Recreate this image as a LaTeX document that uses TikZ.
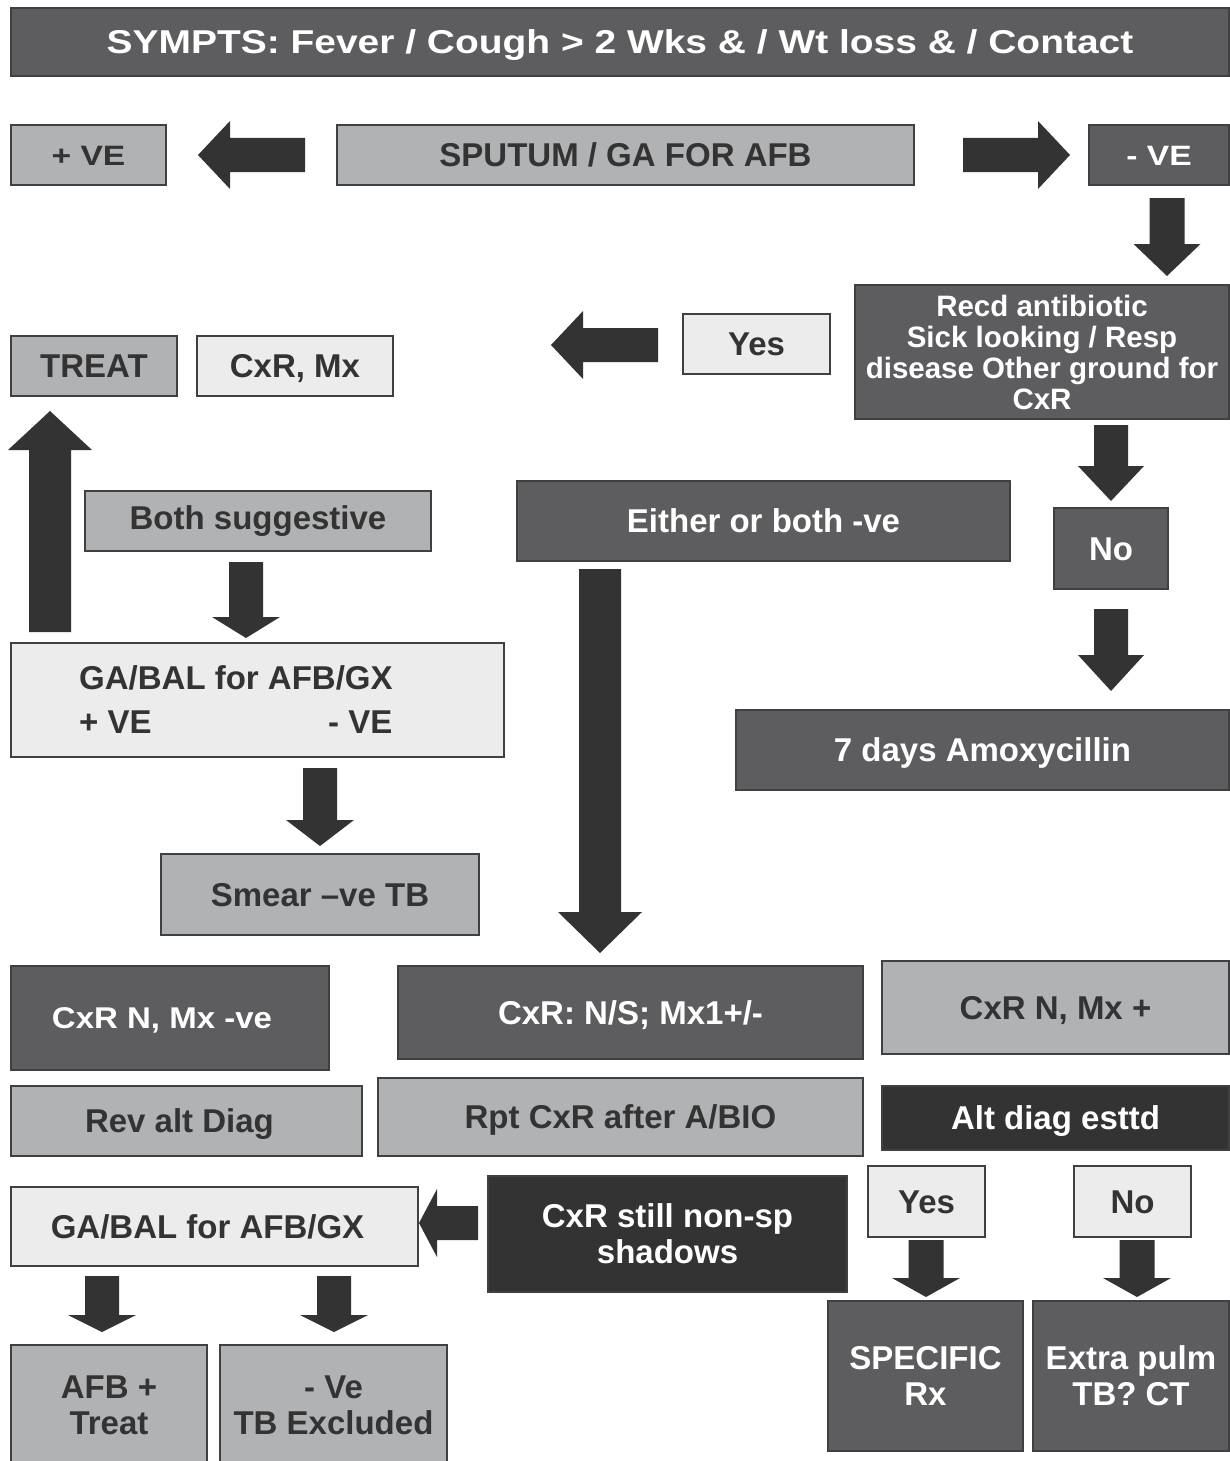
\documentclass[tikz,border=0pt]{standalone}
\usepackage{fontspec}
\setmainfont{Liberation Sans}
\usepackage{graphicx}
\definecolor{cdark}{HTML}{5D5D5F}
\definecolor{cmid}{HTML}{B1B2B4}
\definecolor{clight}{HTML}{ECECEC}
\definecolor{cvdark}{HTML}{333333}
\definecolor{carrow}{HTML}{333333}
\definecolor{ctext}{HTML}{333333}
\definecolor{boxline}{HTML}{404040}
\newcommand{\fsz}[2]{\fontsize{#1}{#2}\selectfont}
\newcommand{\bx}[7]{%
  \node[#6, minimum width={(#4-#2)*1pt}, minimum height={(#5-#3)*1pt}] (#1) at ({(#2+#4)/2},{(#3+#5)/2}) {#7};}
\newcommand{\darr}[6]{%
  \fill[arr] ({#1-#5},#2) -- ({#1+#5},#2) -- ({#1+#5},#3) -- ({#1+#6},#3) -- (#1,#4) -- ({#1-#6},#3) -- ({#1-#5},#3) -- cycle;}
\newcommand{\harr}[6]{%
  \fill[arr] (#2,{#1-#5}) -- (#2,{#1+#5}) -- (#3,{#1+#5}) -- (#3,{#1+#6}) -- (#4,#1) -- (#3,{#1-#6}) -- (#3,{#1-#5}) -- cycle;}
\tikzset{
  base/.style={draw=boxline, line width=1.5pt, inner sep=0pt, align=center, font=\bfseries\fsz{33}{36}},
  dk/.style={base, fill=cdark, text=white},
  md/.style={base, fill=cmid, text=ctext},
  lt/.style={base, fill=clight, text=ctext},
  vd/.style={base, fill=cvdark, text=white},
  one/.style={text height=23.6pt, text depth=0pt},
  txt/.style={inner sep=0pt, font=\bfseries\fsz{33}{36}, text=ctext},
  arr/.style={fill=carrow, draw=none},
}
\begin{document}
\begin{tikzpicture}[x=1pt,y=-1pt]
\useasboundingbox (0,0) rectangle (1229,1461);
% boxes
\bx{hdr}{11}{8}{1229}{76}{dk,text height=23.6pt,text depth=0pt}{\scalebox{1.18}[1]{\fsz{33}{36}SYMPTS: Fever / Cough > 2 Wks \& / Wt loss \& / Contact}}
\bx{pve}{11}{125}{166}{185}{md,text height=20pt,text depth=0pt}{\scalebox{1.2}[1]{\fsz{28}{30}+ VE}}
\bx{sput}{337}{125}{914}{185}{md,one}{SPUTUM / GA FOR AFB}
\bx{nve}{1089}{125}{1229}{185}{dk,text height=20pt,text depth=0pt}{\scalebox{1.2}[1]{\fsz{28}{30}- VE}}
\bx{recd}{855}{285}{1229}{419}{dk,font=\bfseries\fsz{29.5}{31}}{Recd antibiotic\\Sick looking / Resp\\disease Other ground for\\CxR}
\bx{yesa}{683}{314}{830}{374}{lt,one}{Yes}
\bx{treat}{11}{336}{177}{396}{md,one}{TREAT}
\bx{cxrmx}{197}{336}{393}{396}{lt,one}{CxR, Mx}
\bx{both}{85}{491}{431}{551}{md}{Both suggestive}
\bx{either}{517}{481}{1010}{561}{dk,one}{Either or both -ve}
\bx{noa}{1054}{508}{1168}{589}{dk,one}{No}
\bx{gaa}{11}{643}{504}{757}{lt}{}
\node[txt, anchor=base west] (gaat) at (79,689) {GA/BAL for AFB/GX};
\node[txt, anchor=base west] (gaap) at (79,733) {+ VE};
\node[txt, anchor=base west] (gaam) at (328,733) {- VE};
\bx{amox}{736}{710}{1229}{790}{dk,one}{7 days Amoxycillin}
\bx{smear}{161}{854}{479}{935}{md,one}{Smear –ve TB}
\bx{cxrn}{11}{966}{329}{1070}{dk,text height=21.5pt,text depth=0pt}{\scalebox{1.1}[1]{\fsz{30}{32}CxR N, Mx -ve}\hspace*{16pt}}
\bx{cxrns}{398}{966}{863}{1059}{dk,one}{CxR: N/S; Mx1+/-}
\bx{cxrnp}{882}{961}{1229}{1054}{md,one}{CxR N, Mx +}
\bx{rev}{11}{1086}{362}{1156}{md,one}{Rev alt Diag\hspace*{14pt}}
\bx{rpt}{378}{1078}{863}{1156}{md,one}{Rpt CxR after A/BIO}
\bx{alt}{882}{1086}{1229}{1150}{vd,one}{Alt diag esttd}
\bx{gab}{11}{1187}{418}{1266}{lt,one}{GA/BAL for AFB/GX\hspace*{14pt}}
\bx{still}{488}{1176}{847}{1292}{vd}{CxR still non-sp\\shadows}
\bx{yesb}{868}{1166}{985}{1237}{lt,one}{Yes}
\bx{nob}{1074}{1166}{1191}{1237}{lt,one}{No}
\bx{spec}{828}{1301}{1023}{1451}{dk}{SPECIFIC\\Rx}
\bx{extra}{1033}{1301}{1229}{1451}{dk}{Extra pulm\\TB? CT}
\bx{afb}{11}{1345}{207}{1465}{md}{AFB +\\Treat}
\bx{tbex}{220}{1345}{447}{1465}{md}{- Ve\\TB Excluded}
% block arrows
\harr{155}{305}{230}{198}{17}{34}
\harr{155}{963}{1038}{1070}{17}{34}
\darr{1167}{198}{244}{276}{17.5}{33.5}
\harr{345}{658}{583}{551}{17}{34}
\darr{1111}{425}{466}{501}{17}{33}
\darr{1111}{609}{655}{691}{17}{33}
\darr{50}{632}{450}{411}{21}{42}
\darr{246}{562}{617}{638}{17}{34}
\darr{320}{768}{820}{846}{17}{34}
\darr{600}{569}{912}{953}{21}{42}
\harr{1223}{478}{437}{419}{17}{34}
\darr{102}{1276}{1315}{1332}{17}{34}
\darr{334}{1276}{1315}{1332}{17}{34}
\darr{926}{1240}{1278}{1297}{17.5}{34}
\darr{1137}{1240}{1278}{1297}{17.5}{34}
\end{tikzpicture}
\end{document}
